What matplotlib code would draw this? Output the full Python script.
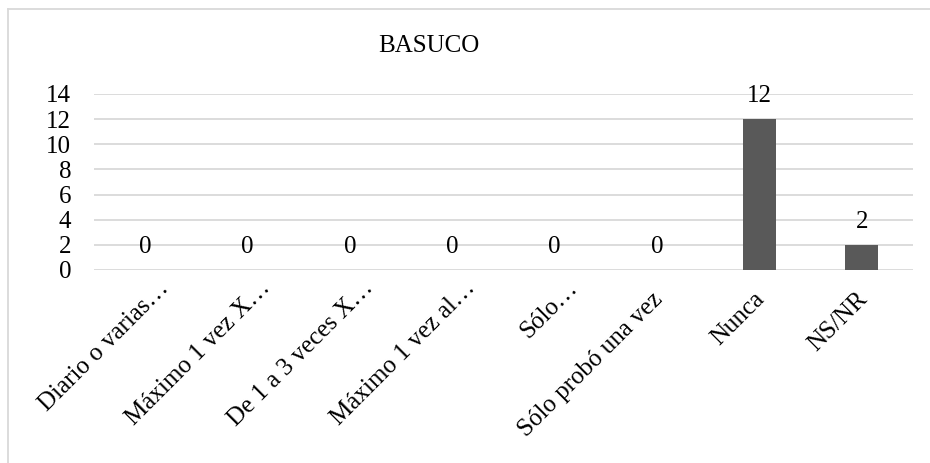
import matplotlib
matplotlib.use("Agg")
import matplotlib.pyplot as plt
import matplotlib.transforms as mtransforms
from matplotlib.lines import Line2D

categories = [
    "Diario o varias…",
    "Máximo 1 vez X…",
    "De 1 a 3 veces X…",
    "Máximo 1 vez al…",
    "Sólo…",
    "Sólo probó una vez",
    "Nunca",
    "NS/NR",
]
values = [0, 0, 0, 0, 0, 0, 12, 2]
yticks = [0, 2, 4, 6, 8, 10, 12, 14]
title = "BASUCO"

plt.rcParams["font.family"] = ["Liberation Serif", "DejaVu Serif"]
FS = 18

W, H = 930, 463
fig = plt.figure(figsize=(W / 100, H / 100), dpi=100)
ax = fig.add_axes([94 / W, 1 - 270 / H, (913 - 94) / W, (270 - 94) / H])

x = list(range(len(categories)))
ax.bar(x, values, width=0.322, color="#595959", zorder=3)
ax.set_xlim(-0.5, len(categories) - 0.5)
ax.set_ylim(0, 14)
ax.set_yticks(yticks)
ax.grid(axis="y", color="#d9d9d9", linewidth=1.3, zorder=0)
for s in ax.spines.values():
    s.set_visible(False)
ax.tick_params(axis="both", length=0, labelsize=FS)
ax.tick_params(axis="y", pad=16.5)
ax.tick_params(axis="x", pad=0)

# rotated category labels; truncated ones sit a bit further along the slant
ax.set_xticks(x)
ax.set_xticklabels(categories, rotation=45, ha="right", va="baseline",
                   rotation_mode="anchor", fontsize=FS)
for lbl in ax.get_xticklabels():
    if lbl.get_text().endswith("…"):
        dx, dy = 24, -19
    else:
        dx, dy = 6, -30
    off = mtransforms.ScaledTranslation(dx / 100, dy / 100, fig.dpi_scale_trans)
    lbl.set_transform(lbl.get_transform() + off)

for xi, v in zip(x, values):
    ax.annotate(str(v), (xi, v), xytext=(0, 12), textcoords="offset points",
                ha="center", va="baseline", fontsize=FS)

fig.text(429 / W, 1 - 46 / H, title, ha="center", va="center", fontsize=FS)

# chart area border (only top and left edges are inside the picture)
fig.add_artist(Line2D([8 / W, 8 / W], [0, 1 - 9 / H], transform=fig.transFigure,
                      color="#d9d9d9", linewidth=1.3))
fig.add_artist(Line2D([8 / W, 1], [1 - 9 / H, 1 - 9 / H], transform=fig.transFigure,
                      color="#d9d9d9", linewidth=1.3))

fig.savefig("out.png", dpi=100)
